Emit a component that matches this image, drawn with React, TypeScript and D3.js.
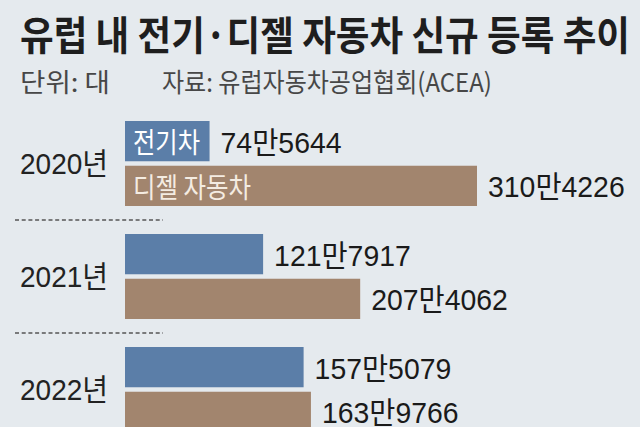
import React from 'react';
import * as d3 from 'd3';

const years = ['2020년', '2021년', '2022년'];
const series = ['전기차', '디젤 자동차'];
const evValues = [745644, 1217917, 1575079];
const dieselValues = [3104226, 2074062, 1639766];

const width = 640;
const height = 427;
const colors = { ev: '#5b7ea8', diesel: '#a2856e', bg: '#e5eaee' };
const font = '"Liberation Sans Narrow", "Liberation Sans", "Noto Sans CJK KR", sans-serif';
const krFont = '"Noto Sans CJK KR", sans-serif';

const fmt = (v: number) => `${Math.floor(v / 10000)}만${String(v % 10000).padStart(4, '0')}`;
// rough width of a condensed label: digits narrow, hangul wide
const labelLen = (s: string) =>
  s.split('').reduce((acc, c) => acc + (/[0-9]/.test(c) ? 15.6 : 27.5), 0);

const App = () => {
  const x = d3
    .scaleLinear()
    .domain([0, d3.max(dieselValues) || 0])
    .range([125, 477]);
  const y = d3
    .scaleBand<string>()
    .domain(years)
    .range([116, 116 + 3 * 113]);
  const inner = d3
    .scaleBand<string>()
    .domain(series)
    .range([5, 90])
    .paddingInner(0.1);

  const rows = years.map((year, i) => ({
    year,
    bars: [
      { key: series[0], value: evValues[i], color: colors.ev },
      { key: series[1], value: dieselValues[i], color: colors.diesel },
    ],
  }));

  return (
    <svg
      width={width}
      height={height}
      style={{ position: 'absolute', left: 0, top: 0 }}
    >
      <rect width={width} height={height} fill={colors.bg} />
      <text
        x={20}
        y={50}
        fontFamily={krFont}
        fontWeight={700}
        fontSize={40}
        fill="#1e1e1e"
        textLength={610}
        lengthAdjust="spacingAndGlyphs"
      >
        유럽 내 전기·디젤 자동차 신규 등록 추이
      </text>
      <text
        x={20}
        y={92}
        fontFamily={krFont}
        fontSize={26}
        fill="#474747"
        textLength={90}
        lengthAdjust="spacingAndGlyphs"
      >
        단위: 대
      </text>
      <text
        x={162}
        y={92}
        fontFamily={krFont}
        fontSize={26}
        fill="#474747"
        textLength={330}
        lengthAdjust="spacingAndGlyphs"
      >
        자료: 유럽자동차공업협회(ACEA)
      </text>

      {rows.map((row, i) => {
        const y0 = y(row.year) || 0;
        return (
          <g key={row.year}>
            {i > 0 && (
              <line
                x1={15}
                x2={163}
                y1={y0 - 9}
                y2={y0 - 9}
                stroke="#555"
                strokeWidth={1.5}
                strokeDasharray="4,2.7"
              />
            )}
            <text
              x={20}
              y={y0 + 47}
              dominantBaseline="central"
              fontFamily={font}
              fontSize={30}
              fill="#222"
              textLength={88}
              lengthAdjust="spacingAndGlyphs"
            >
              {row.year}
            </text>
            {row.bars.map((b) => {
              const by = y0 + (inner(b.key) || 0);
              const bh = inner.bandwidth();
              const label = fmt(b.value);
              return (
                <g key={b.key}>
                  <rect
                    x={x(0)}
                    y={by}
                    width={x(b.value) - x(0)}
                    height={bh}
                    fill={b.color}
                  />
                  <text
                    x={x(b.value) + 11}
                    y={by + bh / 2 + 1}
                    dominantBaseline="central"
                    fontFamily={font}
                    fontSize={30}
                    fill="#1a1a1a"
                    textLength={labelLen(label)}
                    lengthAdjust="spacingAndGlyphs"
                  >
                    {label}
                  </text>
                  {i === 0 && (
                    <text
                      x={x(0) + 8}
                      y={by + bh / 2}
                      dominantBaseline="central"
                      fontFamily={krFont}
                      fontSize={28}
                      fill={b.key === series[0] ? '#ffffff' : '#f4ece2'}
                      textLength={b.key === series[0] ? 67 : 118}
                      lengthAdjust="spacingAndGlyphs"
                    >
                      {b.key}
                    </text>
                  )}
                </g>
              );
            })}
          </g>
        );
      })}
    </svg>
  );
};

export default App;
